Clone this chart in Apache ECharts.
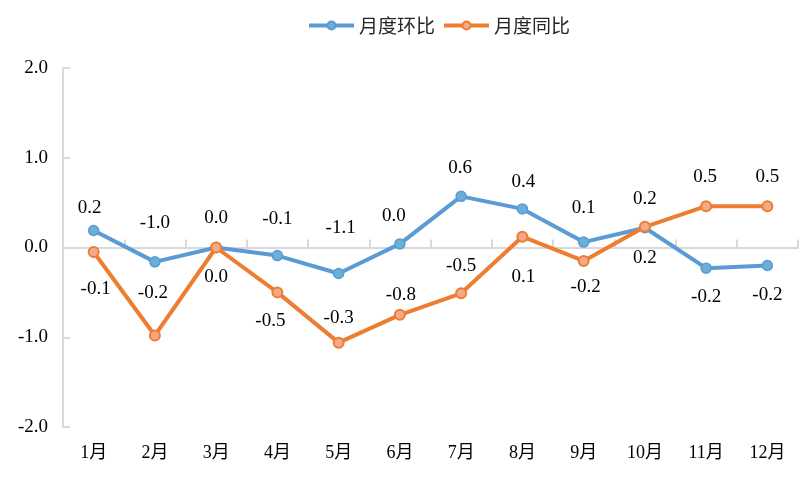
<!DOCTYPE html>
<html>
<head>
<meta charset="utf-8">
<script src="https://cdn.jsdelivr.net/npm/echarts@6/dist/echarts.min.js"></script>
<style>
  html, body { margin: 0; padding: 0; background: #fff; }
  #chart { width: 806px; height: 478px; }
</style>
</head>
<body>
<div id="chart"></div>
<script>
// categories
const months = ["1月", "2月", "3月", "4月", "5月", "6月", "7月", "8月", "9月", "10月", "11月", "12月"];

// series values
const momValues = [0.19, -0.16, 0.0, -0.09, -0.29, 0.04, 0.57, 0.43, 0.06, 0.22, -0.23, -0.2];
const yoyValues = [-0.05, -0.98, 0.0, -0.5, -1.06, -0.75, -0.51, 0.12, -0.15, 0.23, 0.46, 0.46];

// data label texts as printed on the chart (upper row / lower row)
const upperLabels = ["0.2", "-1.0", "0.0", "-0.1", "-1.1", "0.0", "0.6", "0.4", "0.1", "0.2", "0.5", "0.5"];
const lowerLabels = ["-0.1", "-0.2", "0.0", "-0.5", "-0.3", "-0.8", "-0.5", "0.1", "-0.2", "0.2", "-0.2", "-0.2"];

// y axis ticks
const yTicks = [-2, -1, 0, 1, 2];

// label placement relative to each point (pixels)
const upperShift = [[-4, -22], [0, -39], [0, -29], [0, -37], [2, -46], [-6, -28], [-1, -28], [1, -27], [0, -34], [0, -29], [-1, -91], [0, -88]];
const lowerShift = [[2, 37], [-2, -42], [0, 30], [-7, 29], [0, -25], [1, -20], [0, -27], [1, 40], [2, 26], [0, 31], [0, 91], [0, 89]];

const serif = "'Liberation Serif', 'Noto Sans CJK SC', serif";
const gray = "#d9d9d9";

function withLabels(values, texts, shifts) {
  return values.map((v, i) => ({
    value: v,
    label: { offset: shifts[i], formatter: texts[i] }
  }));
}

const chart = echarts.init(document.getElementById("chart"));

const option = {
  animation: false,
  backgroundColor: "#fff",
  legend: {
    top: 11,
    left: 302,
    itemWidth: 45,
    itemHeight: 10,
    itemGap: 7,
    lineStyle: { width: 4 },
    textStyle: {
      fontFamily: "'Noto Sans CJK SC', sans-serif",
      fontSize: 19,
      color: "#262626"
    },
    data: ["月度环比", "月度同比"]
  },
  grid: {
    left: 63,
    right: 8,
    top: 68,
    bottom: 51
  },
  xAxis: [
    {
      type: "category",
      data: months,
      boundaryGap: true,
      axisLine: { show: false, onZero: false },
      axisTick: { show: false },
      axisLabel: {
        fontFamily: serif,
        fontSize: 18,
        color: "#000",
        margin: 17
      }
    },
    {
      type: "category",
      data: months,
      boundaryGap: true,
      position: "bottom",
      axisLine: { show: true, onZero: true, lineStyle: { color: gray, width: 2 } },
      axisTick: { show: true, inside: true, length: 8, lineStyle: { color: gray, width: 2 } },
      axisLabel: { show: false }
    }
  ],
  yAxis: {
    type: "value",
    min: yTicks[0],
    max: yTicks[yTicks.length - 1],
    interval: 1,
    axisLine: { show: true, lineStyle: { color: gray, width: 2 } },
    axisTick: { show: true, inside: true, length: 7, lineStyle: { color: gray, width: 2 } },
    splitLine: { show: false },
    axisLabel: {
      fontFamily: serif,
      fontSize: 19,
      color: "#000",
      margin: 15,
      formatter: (v) => v.toFixed(1)
    }
  },
  series: [
    {
      name: "月度环比",
      type: "line",
      xAxisIndex: 0,
      data: withLabels(momValues, upperLabels, upperShift),
      symbol: "circle",
      symbolSize: 10,
      lineStyle: { color: "#5b9bd5", width: 4 },
      itemStyle: { color: "#6aafd6", borderColor: "#5b9bd5", borderWidth: 1.5 },
      label: {
        show: true,
        position: "inside",
        fontFamily: serif,
        fontSize: 19,
        color: "#000"
      },
      z: 3
    },
    {
      name: "月度同比",
      type: "line",
      xAxisIndex: 0,
      data: withLabels(yoyValues, lowerLabels, lowerShift),
      symbol: "circle",
      symbolSize: 10,
      lineStyle: { color: "#ed7d31", width: 4 },
      itemStyle: { color: "#f4a98a", borderColor: "#ed7d31", borderWidth: 2 },
      label: {
        show: true,
        position: "inside",
        fontFamily: serif,
        fontSize: 19,
        color: "#000"
      },
      z: 4
    }
  ]
};

chart.setOption(option);
</script>
</body>
</html>
